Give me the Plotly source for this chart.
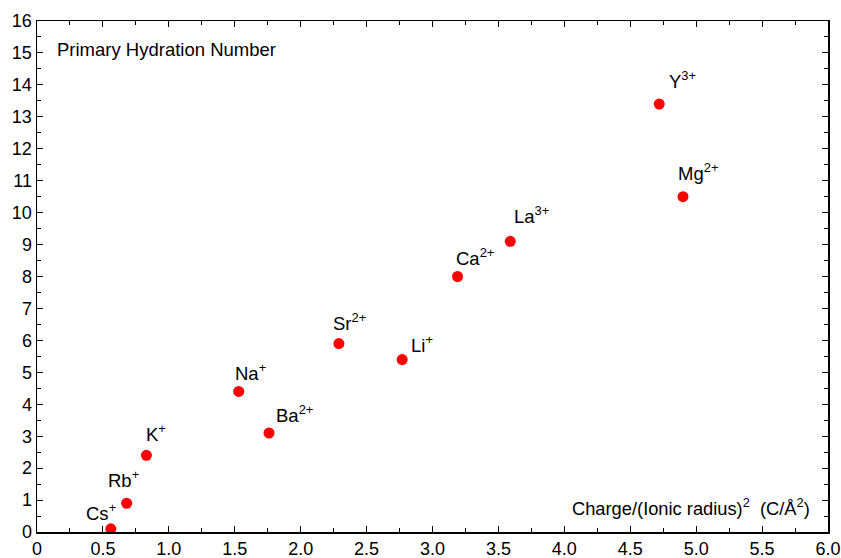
import plotly.graph_objects as go

ions = ["Cs", "Rb", "K", "Na", "Ba", "Sr", "Li", "Ca", "La", "Y", "Mg"]
charges = ["+", "+", "+", "+", "2+", "2+", "+", "2+", "3+", "3+", "2+"]
charge_density = [0.56, 0.68, 0.83, 1.53, 1.76, 2.29, 2.77, 3.19, 3.59, 4.72, 4.90]
hydration_number = [0.1, 0.9, 2.4, 4.4, 3.1, 5.9, 5.4, 8.0, 9.1, 13.4, 10.5]
x_tick_values = [0, 0.5, 1, 1.5, 2, 2.5, 3, 3.5, 4, 4.5, 5, 5.5, 6]
x_tick_labels = ["0", "0.5", "1.0", "1.5", "2.0", "2.5", "3.0", "3.5", "4.0", "4.5", "5.0", "5.5", "6.0"]

# label offsets in pixels (left edge dx, bottom dy)
label_dx = [-27, -21, -2, -6, 5, -8, 7, -4, 2, 8, -7]
label_dy = [3, 10, 8, 5, 5, 8, 2, 6, 12, 10, 11]

FONT = "Liberation Sans, Arial, Helvetica, sans-serif"

fig = go.Figure()
fig.add_trace(go.Scatter(
    x=charge_density, y=hydration_number, mode="markers",
    marker=dict(color="#ff0000", size=11, line=dict(width=0)),
    showlegend=False, hoverinfo="skip"))

for name, q, xv, yv, dx, dy in zip(ions, charges, charge_density, hydration_number, label_dx, label_dy):
    fig.add_annotation(x=xv, y=yv, xref="x", yref="y",
                       text=f"{name}<sup>{q}</sup>", showarrow=False,
                       xanchor="left", yanchor="bottom", xshift=dx, yshift=dy,
                       font=dict(family=FONT, size=18.5, color="black"))

fig.add_annotation(x=0.0228, y=0.945, xref="paper", yref="paper",
                   text="Primary Hydration Number", showarrow=False,
                   xanchor="left", yanchor="middle",
                   font=dict(family=FONT, size=18.5, color="black"))
fig.add_annotation(x=0.98, y=0.048, xref="paper", yref="paper",
                   text="Charge/(Ionic radius)<sup>2</sup>  (C/Å<sup>2</sup>)", showarrow=False,
                   xanchor="right", yanchor="middle",
                   font=dict(family=FONT, size=18.3, color="black"))

axis_common = dict(showgrid=False, zeroline=False, showline=True, linecolor="black",
                   linewidth=1.5, mirror="allticks", ticks="inside", ticklen=6,
                   tickwidth=1, tickcolor="black", automargin=False,
                   tickfont=dict(family=FONT, size=18, color="black"))

fig.update_xaxes(range=[0, 6], tickvals=x_tick_values, ticktext=x_tick_labels,
                 minor=dict(tickvals=[v + 0.25 for v in x_tick_values[:-1]],
                            ticks="inside", ticklen=4, tickcolor="black"),
                 **axis_common)
fig.update_yaxes(range=[0, 16], dtick=1, tick0=0,
                 minor=dict(dtick=0.5, ticks="inside", ticklen=4, tickcolor="black"),
                 **axis_common)

fig.update_layout(width=841, height=558,
                  margin=dict(l=37, r=13, t=21, b=25.5),
                  paper_bgcolor="white", plot_bgcolor="white",
                  font=dict(family=FONT, color="black"))

fig.write_html("out.html",
               config=dict(displayModeBar=False, staticPlot=True),
               post_script="document.body.style.margin='0';document.body.style.overflow='hidden';")
